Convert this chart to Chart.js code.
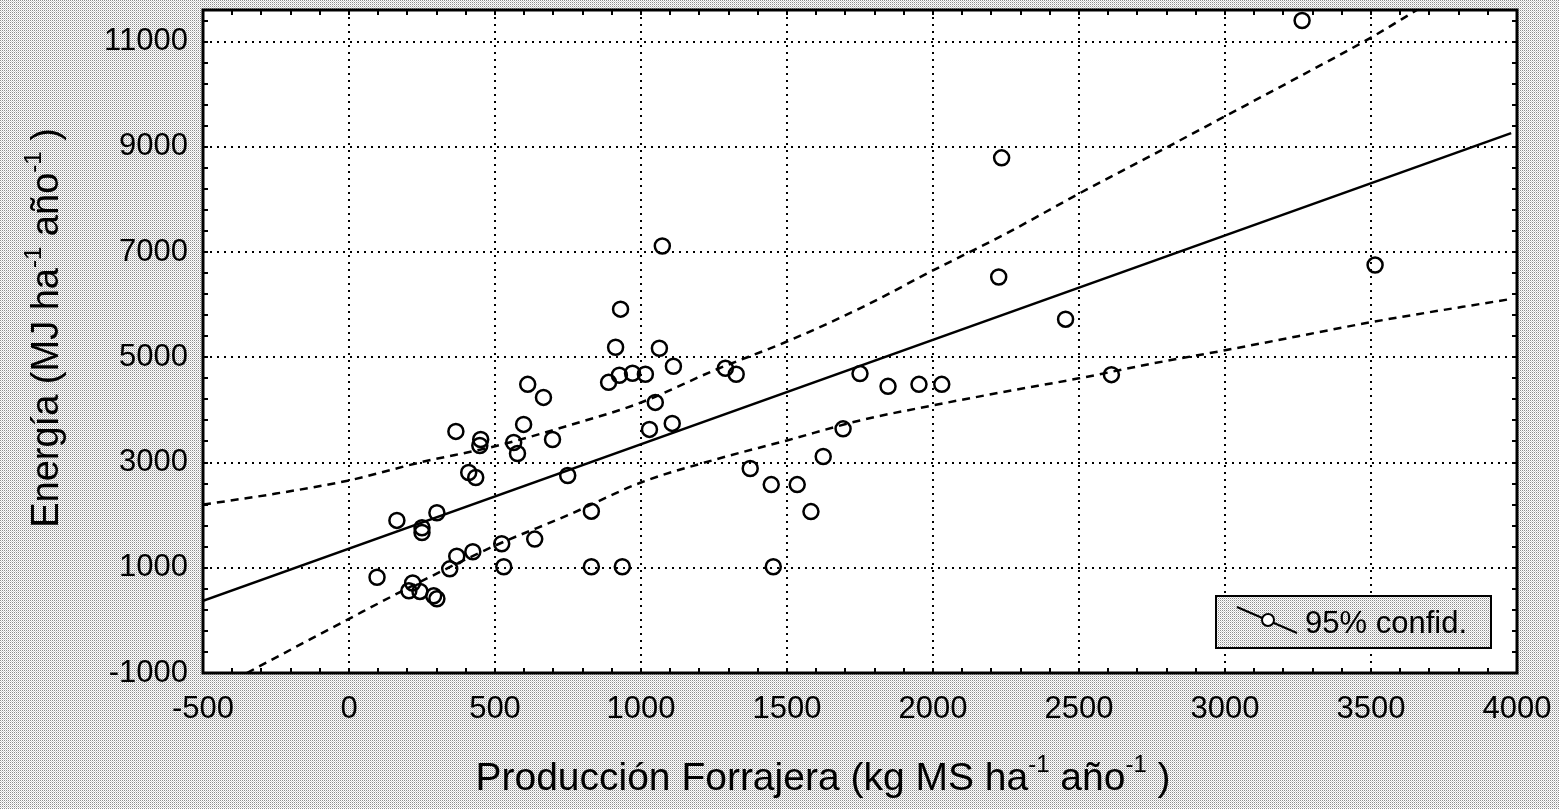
<!DOCTYPE html>
<html>
<head>
<meta charset="utf-8">
<script src="https://cdn.jsdelivr.net/npm/chart.js@4/dist/chart.umd.min.js"></script>
<style>
  html, body { margin:0; padding:0; background:#fff; }
  canvas { display:block; }
</style>
</head>
<body>
<canvas id="chart" width="1559" height="809"></canvas>
<script>
// --- Data ---
const prodX = [96, 164, 250, 250, 301, 218, 205, 243, 290, 301, 345, 369, 424, 523, 530, 636,
  830, 830, 936, 749, 410, 434, 366, 451, 448, 598, 564, 577, 612, 666, 697, 930, 913, 1063,
  889, 926, 971, 1015, 1111, 1049, 1029, 1107, 1289, 1326, 1374, 1624, 1692, 1750, 1073, 2225,
  2454, 1846, 1952, 2030, 2611, 1446, 1535, 1582, 1453, 3264, 3514, 2235];
const energiaY = [820, 1900, 1760, 1670, 2045, 710, 562, 550, 467, 410, 980, 1220, 1305, 1457, 1019, 1545,
  2075, 1019, 1019, 2753, 2810, 2715, 3591, 3438, 3324, 3724, 3381, 3172, 4486, 4238, 3438, 5915, 5191, 5172,
  4524, 4658, 4696, 4677, 4829, 4143, 3629, 3743, 4791, 4677, 2886, 3115, 3640, 4690, 7115, 6525,
  5724, 4448, 4486, 4486, 4670, 2581, 2581, 2067, 1019, 11400, 6753, 8790];

// regression line
const regX = [-500, 3980];
const regY = [370, 9260];

// 95% confidence bands
const upperX = [-500, -250, 0, 250, 500, 750, 1000, 1250, 1500, 1750, 2000, 2250, 2500, 2750, 3000, 3250, 3500, 3660];
const upperY = [2200, 2410, 2660, 3010, 3310, 3700, 4140, 4750, 5300, 5930, 6650, 7350, 8110, 8840, 9580, 10320, 11076, 11610];
const lowerX = [-350, 0, 250, 500, 750, 1000, 1250, 1500, 1750, 2000, 2250, 2500, 2750, 3000, 3250, 3500, 3970];
const lowerY = [-1000, 30, 750, 1420, 2000, 2620, 3050, 3420, 3800, 4086, 4350, 4600, 4880, 5133, 5400, 5667, 6100];

// axis ticks
const xTickLabels = [-500, 0, 500, 1000, 1500, 2000, 2500, 3000, 3500, 4000];
const yTickLabels = [-1000, 1000, 3000, 5000, 7000, 9000, 11000];
const xMinorStep = 100;
const yMinorStep = 400;

const FONT = '"Liberation Sans", Arial, Helvetica, sans-serif';

// --- helpers ---
function toPoints(xs, ys) {
  return xs.map((x, i) => ({ x: x, y: ys[i] }));
}

function makePattern(ctx) {
  const pc = document.createElement('canvas');
  pc.width = 2; pc.height = 2;
  const p = pc.getContext('2d');
  p.fillStyle = '#fff'; p.fillRect(0, 0, 2, 2);
  p.fillStyle = '#8c8c8c'; p.fillRect(0, 0, 1, 1);
  p.fillStyle = '#d0d0d0'; p.fillRect(1, 1, 1, 1);
  return ctx.createPattern(pc, 'repeat');
}

// text with superscripts, parts = [[text, isSup], ...]
function drawRich(ctx, parts, cx, baseY, size) {
  const supSize = Math.round(size * 0.62);
  let total = 0;
  parts.forEach(([t, sup]) => {
    ctx.font = (sup ? supSize : size) + 'px ' + FONT;
    total += ctx.measureText(t).width;
  });
  let x = cx - total / 2;
  ctx.textAlign = 'left';
  ctx.textBaseline = 'alphabetic';
  parts.forEach(([t, sup]) => {
    ctx.font = (sup ? supSize : size) + 'px ' + FONT;
    ctx.fillText(t, x, sup ? baseY - size * 0.45 : baseY);
    x += ctx.measureText(t).width;
  });
}

// --- frame, minor ticks, legend, titles ---
const decorPlugin = {
  id: 'decor',
  beforeDraw(chart) {
    const { ctx, chartArea: a } = chart;
    ctx.save();
    ctx.fillStyle = makePattern(ctx);
    ctx.fillRect(0, 0, chart.width, chart.height);
    ctx.fillStyle = '#fff';
    ctx.fillRect(a.left, a.top, a.right - a.left, a.bottom - a.top);
    ctx.restore();
  },
  afterDraw(chart) {
    const { ctx, chartArea: a } = chart;
    const xs = chart.scales.x, ys = chart.scales.y;
    ctx.save();
    ctx.strokeStyle = '#000';

    // minor ticks (inward, all four sides)
    ctx.lineWidth = 2;
    ctx.beginPath();
    for (let v = xs.min; v <= xs.max; v += xMinorStep) {
      const px = Math.round(xs.getPixelForValue(v));
      ctx.moveTo(px, a.bottom); ctx.lineTo(px, a.bottom - 5);
      ctx.moveTo(px, a.top); ctx.lineTo(px, a.top + 5);
    }
    for (let v = ys.min; v <= ys.max; v += yMinorStep) {
      const py = Math.round(ys.getPixelForValue(v));
      ctx.moveTo(a.left, py); ctx.lineTo(a.left + 5, py);
      ctx.moveTo(a.right, py); ctx.lineTo(a.right - 5, py);
    }
    ctx.stroke();

    // plot frame
    ctx.lineWidth = 3;
    ctx.strokeRect(a.left, a.top, a.right - a.left, a.bottom - a.top);

    // legend box
    const lx = 1216, ly = 596, lw = 275, lh = 52;
    ctx.fillStyle = makePattern(ctx);
    ctx.fillRect(lx, ly, lw, lh);
    ctx.lineWidth = 2;
    ctx.strokeRect(lx, ly, lw, lh);
    ctx.beginPath();
    ctx.moveTo(lx + 21, ly + 11); ctx.lineTo(lx + 81, ly + 37);
    ctx.stroke();
    ctx.beginPath();
    ctx.arc(lx + 52, ly + 24, 6, 0, Math.PI * 2);
    ctx.fillStyle = '#fff'; ctx.fill(); ctx.stroke();
    ctx.fillStyle = '#000';
    ctx.font = '31px ' + FONT;
    ctx.textAlign = 'left';
    ctx.textBaseline = 'alphabetic';
    ctx.fillText('95% confid.', lx + 89, ly + 37);

    // axis titles
    drawRich(ctx, [['Producción Forrajera (kg MS ha', false], ['-1', true], [' año', false], ['-1', true], [' )', false]],
      823, 790, 39);
    ctx.translate(58, 328);
    ctx.rotate(-Math.PI / 2);
    drawRich(ctx, [['Energía (MJ ha', false], ['-1', true], [' año', false], ['-1', true], [' )', false]],
      0, 0, 38);
    ctx.restore();
  }
};

// --- Chart ---
const gridOpts = { color: '#000', lineWidth: 2, drawTicks: false };
const tickFont = { family: FONT, size: 31 };
const plainTick = v => String(v);

new Chart(document.getElementById('chart').getContext('2d'), {
  type: 'scatter',
  data: {
    datasets: [
      {
        label: 'Datos',
        data: toPoints(prodX, energiaY),
        pointRadius: 7.5,
        pointBorderWidth: 2.5,
        pointBorderColor: '#000',
        pointBackgroundColor: 'rgba(0,0,0,0)',
        order: 0
      },
      {
        label: 'Regresión',
        data: toPoints(regX, regY),
        showLine: true, pointRadius: 0,
        borderColor: '#000', borderWidth: 2.5,
        order: 1
      },
      {
        label: '95% confid. sup',
        data: toPoints(upperX, upperY),
        showLine: true, pointRadius: 0, cubicInterpolationMode: 'monotone',
        borderColor: '#000', borderWidth: 2.5, borderDash: [8, 6],
        order: 1
      },
      {
        label: '95% confid. inf',
        data: toPoints(lowerX, lowerY),
        showLine: true, pointRadius: 0, cubicInterpolationMode: 'monotone',
        borderColor: '#000', borderWidth: 2.5, borderDash: [8, 6],
        order: 1
      }
    ]
  },
  options: {
    responsive: false,
    animation: false,
    devicePixelRatio: 1,
    layout: { padding: { left: 0, top: 10, right: 42, bottom: 0 } },
    plugins: { legend: { display: false }, tooltip: { enabled: false } },
    scales: {
      x: {
        type: 'linear', min: -500, max: 4000,
        afterBuildTicks: s => { s.ticks = xTickLabels.map(v => ({ value: v })); },
        afterFit: s => { s.height = 136; s.paddingLeft = 0; s.paddingRight = 0; },
        ticks: { font: tickFont, color: '#000', padding: 18, maxRotation: 0, autoSkip: false, callback: plainTick },
        grid: gridOpts,
        border: { display: false, dash: [2, 5] }
      },
      y: {
        type: 'linear', min: -1000, max: 11600,
        afterBuildTicks: s => { s.ticks = yTickLabels.map(v => ({ value: v })); },
        afterFit: s => { s.width = 203; s.paddingTop = 0; s.paddingBottom = 0; },
        ticks: { font: tickFont, color: '#000', padding: 15, autoSkip: false, callback: plainTick },
        grid: gridOpts,
        border: { display: false, dash: [2, 5] }
      }
    }
  },
  plugins: [decorPlugin]
});
</script>
</body>
</html>
